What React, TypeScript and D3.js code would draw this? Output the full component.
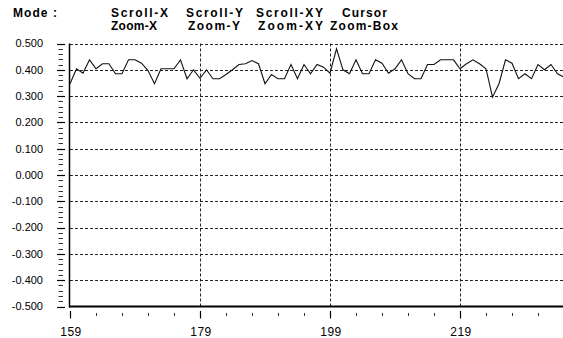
import React, { useEffect, useRef } from 'react';
import * as d3 from 'd3';

// series: one sample per x step, starting at 159
const startX = 159;
const values = [
  0.347, 0.404, 0.387, 0.438, 0.404, 0.423, 0.423, 0.385, 0.385, 0.438,
  0.438, 0.425, 0.397, 0.347, 0.404, 0.404, 0.404, 0.438, 0.366, 0.400,
  0.368, 0.400, 0.366, 0.366, 0.382, 0.400, 0.420, 0.423, 0.435, 0.423,
  0.347, 0.382, 0.366, 0.366, 0.420, 0.366, 0.420, 0.385, 0.420, 0.410,
  0.387, 0.480, 0.400, 0.385, 0.438, 0.385, 0.385, 0.438, 0.425, 0.387,
  0.404, 0.438, 0.385, 0.366, 0.366, 0.420, 0.420, 0.438, 0.438, 0.438,
  0.404, 0.423, 0.438, 0.423, 0.404, 0.296, 0.347, 0.438, 0.425, 0.366,
  0.385, 0.366, 0.420, 0.400, 0.420, 0.385, 0.372,
];

const xMajorTicks = [159, 179, 199, 219];
const xMinorTicks = [163, 167, 171, 175, 183, 187, 191, 195, 203, 207, 211, 215, 223, 227, 231];
const yMajorTicks = [-0.5, -0.4, -0.3, -0.2, -0.1, 0, 0.1, 0.2, 0.3, 0.4, 0.5];

const modeRow1 = [
  { label: 'Scroll-X', x: 111, w: 57 },
  { label: 'Scroll-Y', x: 186, w: 57 },
  { label: 'Scroll-XY', x: 256, w: 67 },
  { label: 'Cursor', x: 342, w: 45 },
];
const modeRow2 = [
  { label: 'Zoom-X', x: 111, w: 46 },
  { label: 'Zoom-Y', x: 188, w: 52 },
  { label: 'Zoom-XY', x: 258, w: 65 },
  { label: 'Zoom-Box', x: 330, w: 68 },
];

const W = 563;
const H = 338;

const App = () => {
  const svgRef = useRef(null);

  useEffect(() => {
    const svg = d3.select(svgRef.current);
    svg.selectAll('*').remove();

    const font = '"Liberation Sans", Arial, sans-serif';

    const x = d3.scaleLinear().domain([159, 235]).range([70, 564]);
    const y = d3.scaleLinear().domain([-0.5, 0.5]).range([306.5, 43.5]);

    svg.append('rect').attr('width', W).attr('height', H).attr('fill', '#fff');

    // mode header
    svg.append('text')
      .attr('x', 13).attr('y', 17)
      .attr('font-family', font).attr('font-size', 12).attr('font-weight', 'bold')
      .attr('textLength', 44).attr('lengthAdjust', 'spacing')
      .text('Mode :');
    modeRow1.forEach(m => {
      svg.append('text')
        .attr('x', m.x).attr('y', 17)
        .attr('font-family', font).attr('font-size', 12).attr('font-weight', 'bold')
        .attr('textLength', m.w).attr('lengthAdjust', 'spacing')
        .text(m.label);
    });
    modeRow2.forEach(m => {
      svg.append('text')
        .attr('x', m.x).attr('y', 29.5)
        .attr('font-family', font).attr('font-size', 12).attr('font-weight', 'bold')
        .attr('textLength', m.w).attr('lengthAdjust', 'spacing')
        .text(m.label);
    });

    // horizontal grid
    svg.append('g')
      .selectAll('line')
      .data(yMajorTicks.filter(v => v > -0.5))
      .enter()
      .append('line')
      .attr('x1', 70).attr('x2', W)
      .attr('y1', d => Math.round(y(d)) + 0.5)
      .attr('y2', d => Math.round(y(d)) + 0.5)
      .attr('stroke', '#222')
      .attr('stroke-dasharray', '3,2');

    // vertical grid
    svg.append('g')
      .selectAll('line')
      .data(xMajorTicks.slice(1))
      .enter()
      .append('line')
      .attr('x1', d => Math.round(x(d)) + 0.5)
      .attr('x2', d => Math.round(x(d)) + 0.5)
      .attr('y1', y(0.5)).attr('y2', y(-0.5))
      .attr('stroke', '#222')
      .attr('stroke-dasharray', '3,2');

    // y ticks
    const yMinor = d3.range(-0.5, 0.5001, 0.02).filter(v => Math.abs(Math.round(v * 10) - v * 10) > 0.01);
    svg.append('g')
      .selectAll('line')
      .data(yMinor)
      .enter()
      .append('line')
      .attr('x1', 58.5).attr('x2', 63)
      .attr('y1', d => Math.round(y(d)) + 0.5)
      .attr('y2', d => Math.round(y(d)) + 0.5)
      .attr('stroke', '#333');
    svg.append('g')
      .selectAll('line')
      .data(yMajorTicks)
      .enter()
      .append('line')
      .attr('x1', 57).attr('x2', 65)
      .attr('y1', d => Math.round(y(d)) + 0.5)
      .attr('y2', d => Math.round(y(d)) + 0.5)
      .attr('stroke', '#000')
      .attr('stroke-width', 1.2);
    svg.append('g')
      .selectAll('text')
      .data(yMajorTicks)
      .enter()
      .append('text')
      .attr('x', 43)
      .attr('y', d => y(d))
      .attr('dy', '0.35em')
      .attr('text-anchor', 'end')
      .attr('font-family', font)
      .attr('font-size', 11)
      .text(d => d3.format('.3f')(d).replace('−', '-'));

    // x ticks
    svg.append('g')
      .selectAll('line')
      .data(xMinorTicks)
      .enter()
      .append('line')
      .attr('x1', d => Math.round(x(d)) + 0.5)
      .attr('x2', d => Math.round(x(d)) + 0.5)
      .attr('y1', 313).attr('y2', 316)
      .attr('stroke', '#333');
    svg.append('g')
      .selectAll('line')
      .data(xMajorTicks)
      .enter()
      .append('line')
      .attr('x1', d => Math.round(x(d)) + 0.5)
      .attr('x2', d => Math.round(x(d)) + 0.5)
      .attr('y1', 311).attr('y2', 318.5)
      .attr('stroke', '#000')
      .attr('stroke-width', 1.2);
    svg.append('g')
      .selectAll('text')
      .data(xMajorTicks)
      .enter()
      .append('text')
      .attr('x', d => x(d) + 1)
      .attr('y', 336)
      .attr('text-anchor', 'middle')
      .attr('font-family', font)
      .attr('font-size', 12)
      .attr('letter-spacing', 0.5)
      .text(d => d);

    // axes
    svg.append('line')
      .attr('x1', 69.5).attr('x2', 69.5)
      .attr('y1', y(0.5)).attr('y2', y(-0.5) + 1)
      .attr('stroke', '#000').attr('stroke-width', 1.5);
    svg.append('line')
      .attr('x1', 69).attr('x2', W)
      .attr('y1', 306.5).attr('y2', 306.5)
      .attr('stroke', '#000').attr('stroke-width', 2);

    // series
    const line = d3.line<number>()
      .x((d, i) => x(startX + i))
      .y(d => y(d));
    svg.append('path')
      .datum(values)
      .attr('fill', 'none')
      .attr('stroke', '#111')
      .attr('stroke-width', 1.1)
      .attr('d', line);
  }, []);

  return (
    <svg
      ref={svgRef}
      width={W}
      height={H}
      style={{ position: 'absolute', left: 0, top: 0, display: 'block' }}
    />
  );
};

export default App;
